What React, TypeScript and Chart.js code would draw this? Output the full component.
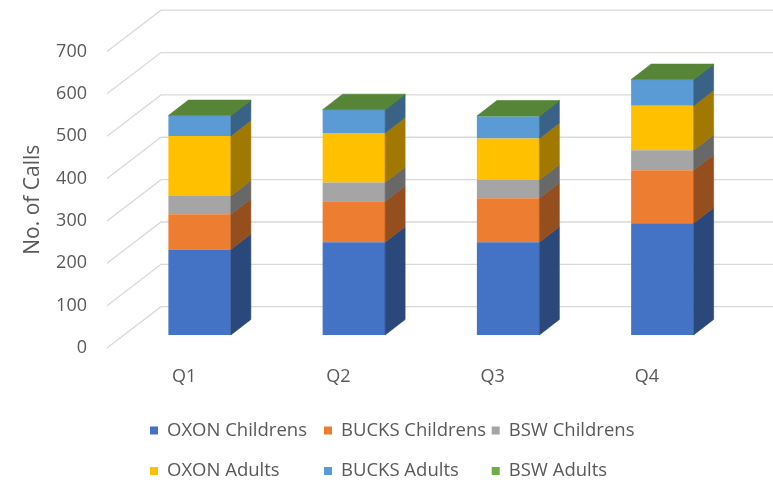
import { useEffect, useRef } from "react";
import { Chart, registerables } from "chart.js";

Chart.register(...registerables);

const categories = ["Q1", "Q2", "Q3", "Q4"];
const oxonChildrens = [202, 219, 219, 264];
const bucksChildrens = [83, 97, 104, 125];
const bswChildrens = [43, 44, 43, 47];
const oxonAdults = [142, 117, 98, 105];
const bucksAdults = [47, 54, 52, 61];
const bswAdults = [1, 1, 1, 1];

const seriesNames = [
  "OXON Childrens",
  "BUCKS Childrens",
  "BSW Childrens",
  "OXON Adults",
  "BUCKS Adults",
  "BSW Adults",
];
const seriesValues = [oxonChildrens, bucksChildrens, bswChildrens, oxonAdults, bucksAdults, bswAdults];
const seriesColors = ["#4472C4", "#ED7D31", "#A5A5A5", "#FFC000", "#5B9BD5", "#70AD47"];

const yMin = 0;
const yMax = 700;
const yStep = 100;
const yTitle = "No. of Calls";

const FONT = "'Open Sans', sans-serif";
const TEXT = "#595959";
const GRID = "#d9d9d9";

// 3D geometry (pixels)
const WALL_DX = 54;
const WALL_DY = -41.3;
const FRONT_DX = 15.5;
const FRONT_DY = -13;
const BAR_DX = 20;
const BAR_DY = -15.5;

function shade(hex: string, f: number) {
  const n = parseInt(hex.slice(1), 16);
  const r = Math.round(((n >> 16) & 255) * f);
  const g = Math.round(((n >> 8) & 255) * f);
  const b = Math.round((n & 255) * f);
  return `rgb(${r},${g},${b})`;
}

function poly(ctx: CanvasRenderingContext2D, pts: number[][], color: string) {
  ctx.beginPath();
  ctx.moveTo(pts[0][0], pts[0][1]);
  for (let i = 1; i < pts.length; i++) ctx.lineTo(pts[i][0], pts[i][1]);
  ctx.closePath();
  ctx.fillStyle = color;
  ctx.strokeStyle = color;
  ctx.lineWidth = 0.6;
  ctx.fill();
  ctx.stroke();
}

const threeDPlugin = {
  id: "threeD",
  beforeDatasetsDraw(chart: any) {
    const { ctx, chartArea } = chart;
    const y = chart.scales.y;
    ctx.save();
    ctx.strokeStyle = GRID;
    ctx.lineWidth = 1.3;
    y.ticks.forEach((t: any) => {
      const py = y.getPixelForValue(t.value);
      ctx.beginPath();
      ctx.moveTo(chartArea.left, py);
      ctx.lineTo(chartArea.left + WALL_DX, py + WALL_DY);
      ctx.lineTo(chart.width, py + WALL_DY);
      ctx.stroke();
    });
    ctx.restore();
    ctx.save();
    ctx.translate(FRONT_DX, FRONT_DY);
  },
  afterDatasetsDraw(chart: any) {
    const { ctx } = chart;
    ctx.restore();
    ctx.save();
    const n = chart.data.datasets.length;
    const tops: any[] = [];
    for (let d = 0; d < n; d++) {
      const meta = chart.getDatasetMeta(d);
      const color = chart.data.datasets[d].backgroundColor as string;
      meta.data.forEach((el: any, j: number) => {
        const p = el.getProps(["x", "y", "base", "width"], true);
        const left = p.x - p.width / 2 + FRONT_DX;
        const right = p.x + p.width / 2 + FRONT_DX;
        const top = Math.min(p.y, p.base) + FRONT_DY;
        const bot = Math.max(p.y, p.base) + FRONT_DY;
        if (bot - top > 0.01) {
          poly(
            ctx,
            [
              [right, top],
              [right + BAR_DX, top + BAR_DY],
              [right + BAR_DX, bot + BAR_DY],
              [right, bot],
            ],
            shade(color, 0.63)
          );
        }
        tops[j] = { left, right, top, color };
      });
    }
    tops.forEach((t) => {
      poly(
        ctx,
        [
          [t.left, t.top],
          [t.left + BAR_DX, t.top + BAR_DY],
          [t.right + BAR_DX, t.top + BAR_DY],
          [t.right, t.top],
        ],
        shade(t.color, 0.77)
      );
    });
    ctx.restore();
  },
};

const legendCols = [150, 324, 491.7];
const legendRows = [430.5, 471];

const gridLegendPlugin = {
  id: "gridLegend",
  afterDraw(chart: any) {
    const { ctx } = chart;
    ctx.save();
    ctx.font = `18.5px ${FONT}`;
    ctx.textBaseline = "middle";
    ctx.textAlign = "left";
    chart.data.datasets.forEach((ds: any, i: number) => {
      const x = legendCols[i % 3];
      const y = legendRows[Math.floor(i / 3)];
      ctx.fillStyle = ds.backgroundColor;
      ctx.fillRect(x, y - 4, 8, 8);
      ctx.fillStyle = TEXT;
      ctx.fillText(ds.label, x + 17, y);
    });
    ctx.restore();
  },
};

export default function App() {
  const ref = useRef<HTMLCanvasElement | null>(null);
  useEffect(() => {
    if (!ref.current) return;
    const chart = new Chart(ref.current, {
      type: "bar",
      data: {
        labels: categories,
        datasets: seriesNames.map((name, i) => ({
          label: name,
          data: seriesValues[i],
          backgroundColor: seriesColors[i],
          borderWidth: 0,
          categoryPercentage: 1,
          barPercentage: 0.405,
        })),
      },
      options: {
        animation: false,
        responsive: true,
        maintainAspectRatio: false,
        layout: { padding: { left: 0, right: 49, top: 51.5, bottom: 0 } },
        plugins: {
          legend: { display: false },
          tooltip: { enabled: false },
        },
        scales: {
          x: {
            stacked: true,
            grid: { display: false, drawTicks: false },
            border: { display: false },
            ticks: { color: TEXT, font: { family: FONT, size: 18 }, padding: 17.7 },
            afterFit: (s: any) => {
              s.height = 134;
            },
          },
          y: {
            stacked: true,
            min: yMin,
            max: yMax,
            grid: { display: false, drawTicks: false },
            border: { display: false },
            ticks: { stepSize: yStep, color: TEXT, font: { family: FONT, size: 18 }, padding: 20 },
            title: {
              display: true,
              text: yTitle,
              color: TEXT,
              font: { family: FONT, size: 21 },
              padding: { top: 20.4, bottom: 0 },
            },
            afterFit: (s: any) => {
              s.width = 107;
            },
          },
        },
      },
      plugins: [threeDPlugin, gridLegendPlugin],
    });
    return () => chart.destroy();
  }, []);
  return (
    <div style={{ position: "absolute", left: 0, top: 0, width: 773, height: 482, background: "#fff" }}>
      <canvas ref={ref} />
    </div>
  );
}
